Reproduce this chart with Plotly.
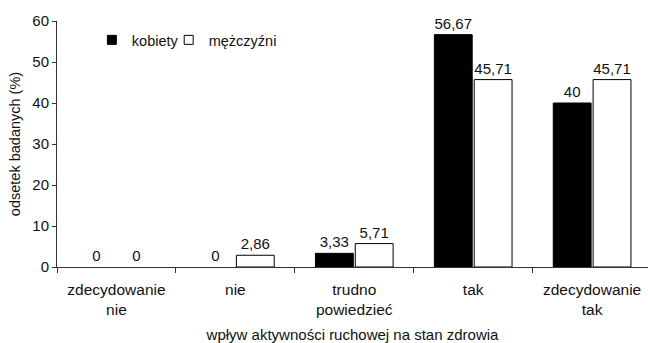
import plotly.graph_objects as go

categories = ["zdecydowanie<br>nie", "nie", "trudno<br>powiedzieć", "tak", "zdecydowanie<br>tak"]
kobiety = [0, 0, 3.33, 56.67, 40]
mezczyzni = [0, 2.86, 5.71, 45.71, 45.71]
y_ticks = [0, 10, 20, 30, 40, 50, 60]


def fmt(v):
    return f"{v:g}".replace(".", ",")


font = dict(family="Liberation Sans, Arial, sans-serif", color="#111111")

fig = go.Figure()
series = [("kobiety", kobiety, "#000000", "legend"),
          ("mężczyźni", mezczyzni, "#ffffff", "legend2")]
for name, values, fill, leg in series:
    fig.add_trace(go.Bar(
        name=name, x=categories, y=values, showlegend=False,
        text=[fmt(v) for v in values], textposition="outside",
        textfont=dict(size=15, **font), cliponaxis=False,
        marker=dict(color=fill,
                    line=dict(color="#000000", width=[0 if v == 0 else 1 for v in values])),
    ))
    # small square legend keys
    fig.add_trace(go.Scatter(
        name=name, x=[None], y=[None], mode="markers", legend=leg,
        marker=dict(symbol="square", size=9, color=fill, line=dict(color="#000000", width=1)),
    ))

legend_style = dict(
    orientation="h", y=0.923, xanchor="left", yanchor="middle",
    bgcolor="rgba(0,0,0,0)", font=dict(size=14.5, **font), itemwidth=30,
)

fig.update_layout(
    width=648, height=343,
    margin=dict(l=57, r=0, t=21, b=76),
    paper_bgcolor="white", plot_bgcolor="white",
    font=dict(size=14, **font),
    barmode="group", bargap=0.33, bargroupgap=0.05,
    showlegend=True,
    legend=dict(x=0.059, **legend_style),
    legend2=dict(x=0.189, **legend_style),
    xaxis=dict(
        range=[-0.5, 4.47],
        showline=True, linecolor="#333333", linewidth=1,
        ticks="outside", tickson="boundaries", ticklen=5, tickcolor="#333333",
        tickfont=dict(size=15.5, **font), ticklabelstandoff=8,
        title=dict(text="wpływ aktywności ruchowej na stan zdrowia",
                   font=dict(size=15, **font), standoff=12),
    ),
    yaxis=dict(
        range=[0, 60], tickvals=y_ticks,
        showline=True, linecolor="#333333", linewidth=1,
        ticks="outside", ticklen=4, tickcolor="#333333",
        showgrid=False, zeroline=False,
        tickfont=dict(size=15, **font),
        title=dict(text="odsetek badanych (%)", font=dict(size=14.5, **font), standoff=8),
    ),
)

fig.write_html("out.html")
